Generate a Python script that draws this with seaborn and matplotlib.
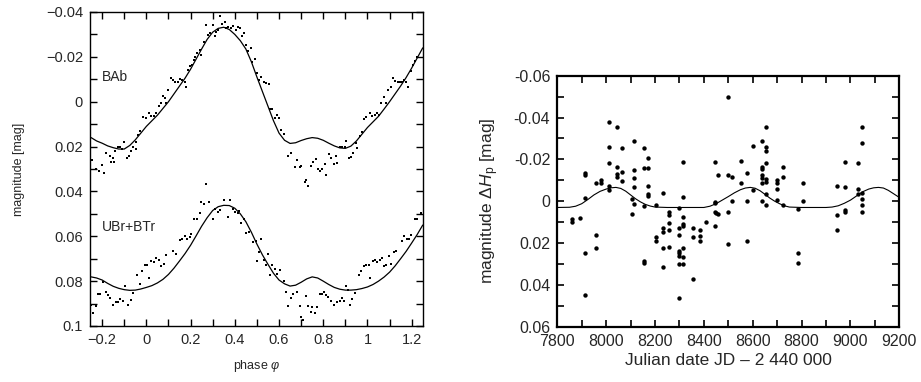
import pandas as pd
import seaborn as sns
import matplotlib.pyplot as plt
from matplotlib.ticker import MultipleLocator, FuncFormatter

# ---- left panel: phased light curves ----
bab_phase = [-0.246, -0.226, -0.214, -0.200, -0.190, -0.181, -0.166, -0.161, -0.152, -0.148,
             -0.140, -0.128, -0.118, -0.109, -0.099, -0.088, -0.079, -0.068, -0.060, -0.048,
             -0.048, -0.038, -0.030, -0.015, -0.003, 0.011, 0.023, 0.033, 0.045, 0.057,
             0.068, 0.075, 0.083, 0.090, 0.098, 0.113, 0.121, 0.128, 0.143, 0.151,
             0.163, 0.174, 0.181, 0.189, 0.199, 0.208, 0.214, 0.219, 0.229, 0.241,
             0.249, 0.259, 0.271, 0.279, 0.287, 0.302, 0.309, 0.317, 0.324, 0.332,
             0.344, 0.354, 0.362, 0.370, 0.385, 0.392, 0.404, 0.415, 0.422, 0.434,
             0.441, 0.452, 0.460, 0.471, 0.478, 0.490, 0.501, 0.510, 0.520, 0.532,
             0.543, 0.553, 0.558, 0.570, 0.584, 0.593, 0.600, 0.611, 0.623, 0.641,
             0.656, 0.671, 0.683, 0.694, 0.701, 0.716, 0.724, 0.731, 0.744, 0.754,
             0.765, 0.775, 0.784, 0.796, 0.807, 0.814, 0.825, 0.837, 0.848, 0.857,
             0.863, 0.875, 0.887, 0.898, 0.902, 0.916, 0.924, 0.935, 0.946, 0.953,
             0.965, 0.976, 0.985, 0.995, 1.011, 1.021, 1.033, 1.044, 1.053, 1.063,
             1.075, 1.083, 1.094, 1.106, 1.116, 1.124, 1.136, 1.146, 1.158, 1.166,
             1.173, 1.184, 1.195, 1.207, 1.214, 1.222]
bab_mag = [0.026, 0.030, 0.031, 0.028, 0.032, 0.023, 0.024, 0.027, 0.025, 0.027,
           0.022, 0.020, 0.020, 0.021, 0.018, 0.025, 0.024, 0.022, 0.020, 0.021,
           0.018, 0.015, 0.013, 0.0070, 0.0074, 0.0052, 0.0064, 0.0064, 0.0052, 0.0019,
           0.0007, -0.0026, -0.0016, 0.0004, -0.0050, -0.0105, -0.0098, -0.0090, -0.0090, -0.0100,
           -0.0098, -0.0086, -0.0065, -0.0142, -0.0157, -0.0164, -0.0186, -0.0201, -0.0219, -0.0231,
           -0.0209, -0.0264, -0.0343, -0.0299, -0.0306, -0.0343, -0.0291, -0.0313, -0.0321, -0.0383,
           -0.0347, -0.0354, -0.0328, -0.0335, -0.0328, -0.0339, -0.0321, -0.0333, -0.0328, -0.0291,
           -0.0306, -0.0254, -0.0224, -0.0239, -0.0175, -0.0190, -0.0130, -0.0095, -0.0112, -0.0086,
           -0.0083, -0.0078, 0.0034, 0.0034, 0.0074, 0.0059, 0.0074, 0.0126, 0.0145, 0.0242,
           0.0227, 0.0293, 0.0260, 0.0290, 0.0287, 0.0357, 0.0349, 0.0374, 0.0285, 0.0267,
           0.0257, 0.0302, 0.0308, 0.0302, 0.0278, 0.0327, 0.0233, 0.0252, 0.0278, 0.0242,
           0.0272, 0.0200, 0.0203, 0.0203, 0.0173, 0.0252, 0.0248, 0.0227, 0.0182, 0.0208,
           0.0153, 0.0133, 0.0078, 0.0066, 0.0051, 0.0063, 0.0059, 0.0051, 0.0059, 0.0007,
           -0.0023, 0.0004, -0.0050, -0.0065, -0.0105, -0.0094, -0.0090, -0.0090, -0.0086, -0.0097,
           -0.0090, -0.0065, -0.0139, -0.0164, -0.0180, -0.0199]

ubr_phase = [-0.249, -0.241, -0.229, -0.219, -0.208, -0.196, -0.184, -0.173, -0.166, -0.151,
             -0.139, -0.128, -0.118, -0.106, -0.098, -0.083, -0.071, -0.060, -0.042, -0.030,
             -0.018, -0.008, 0.003, 0.012, 0.023, 0.033, 0.045, 0.057, 0.068, 0.080,
             0.090, 0.121, 0.133, 0.154, 0.163, 0.173, 0.186, 0.196, 0.204, 0.216,
             0.229, 0.241, 0.249, 0.259, 0.271, 0.284, 0.302, 0.309, 0.324, 0.332,
             0.350, 0.370, 0.380, 0.392, 0.400, 0.415, 0.420, 0.430, 0.440, 0.452,
             0.465, 0.483, 0.494, 0.501, 0.510, 0.520, 0.531, 0.540, 0.550, 0.561,
             0.570, 0.580, 0.591, 0.603, 0.621, 0.630, 0.641, 0.654, 0.664, 0.683,
             0.694, 0.701, 0.709, 0.721, 0.732, 0.745, 0.751, 0.763, 0.772, 0.784,
             0.793, 0.802, 0.814, 0.822, 0.834, 0.848, 0.864, 0.875, 0.885, 0.894,
             0.902, 0.913, 0.923, 0.932, 0.943, 0.962, 0.973, 0.984, 0.995, 1.006,
             1.013, 1.026, 1.036, 1.045, 1.056, 1.066, 1.075, 1.086, 1.097, 1.107,
             1.118, 1.131, 1.154, 1.165, 1.177, 1.187, 1.196, 1.214, 1.225, 1.240]
ubr_mag = [0.0907, 0.0941, 0.0912, 0.0858, 0.0858, 0.0803, 0.0848, 0.0863, 0.0873, 0.0907,
           0.0892, 0.0892, 0.0878, 0.0888, 0.0823, 0.0907, 0.0882, 0.0855, 0.0773, 0.0814,
           0.0754, 0.0729, 0.0729, 0.0784, 0.0709, 0.0714, 0.0699, 0.0704, 0.0734, 0.0725,
           0.0685, 0.0665, 0.0680, 0.0617, 0.0614, 0.0599, 0.0614, 0.0605, 0.0590, 0.0525,
           0.0525, 0.0498, 0.0446, 0.0457, 0.0367, 0.0446, 0.0525, 0.0480, 0.0491, 0.0483,
           0.0436, 0.0513, 0.0436, 0.0480, 0.0491, 0.0495, 0.0486, 0.0543, 0.0525, 0.0587,
           0.0580, 0.0625, 0.0620, 0.0709, 0.0669, 0.0614, 0.0704, 0.0729, 0.0677, 0.0773,
           0.0729, 0.0744, 0.0766, 0.0751, 0.0799, 0.0848, 0.0912, 0.0873, 0.0858, 0.0848,
           0.0912, 0.0960, 0.0972, 0.0867, 0.0912, 0.0937, 0.0915, 0.0941, 0.0915, 0.0858,
           0.0858, 0.0848, 0.0863, 0.0870, 0.0888, 0.0907, 0.0892, 0.0888, 0.0873, 0.0888,
           0.0823, 0.0841, 0.0907, 0.0878, 0.0855, 0.0773, 0.0754, 0.0734, 0.0729, 0.0729,
           0.0784, 0.0709, 0.0706, 0.0714, 0.0704, 0.0699, 0.0734, 0.0729, 0.0689, 0.0725,
           0.0669, 0.0665, 0.0620, 0.0599, 0.0614, 0.0614, 0.0595, 0.0525, 0.0525, 0.0498]

# fitted curves, every 0.025 in phase
fit_phase = [-0.250, -0.225, -0.200, -0.175, -0.150, -0.125, -0.100, -0.075, -0.050, -0.025,
             0.000, 0.025, 0.050, 0.075, 0.100, 0.125, 0.150, 0.175, 0.200, 0.225,
             0.250, 0.275, 0.300, 0.325, 0.350, 0.375, 0.400, 0.425, 0.450, 0.475,
             0.500, 0.525, 0.550, 0.575, 0.600, 0.625, 0.650, 0.675, 0.700, 0.725,
             0.750, 0.775, 0.800, 0.825, 0.850, 0.875, 0.900, 0.925, 0.950, 0.975,
             1.000, 1.025, 1.050, 1.075, 1.100, 1.125, 1.150, 1.175, 1.200, 1.225, 1.250]
bab_fit = [0.0160, 0.0175, 0.0185, 0.0197, 0.0205, 0.0211, 0.0211, 0.0195, 0.0170, 0.0140,
           0.0110, 0.0085, 0.0060, 0.0030, 0.0000, -0.0035, -0.0070, -0.0105, -0.0145, -0.0190,
           -0.0235, -0.0278, -0.0310, -0.0327, -0.0332, -0.0322, -0.0300, -0.0272, -0.0235, -0.0178,
           -0.0110, -0.0045, 0.0020, 0.0085, 0.0140, 0.0172, 0.0186, 0.0183, 0.0173, 0.0165,
           0.0160, 0.0163, 0.0172, 0.0185, 0.0197, 0.0206, 0.0208, 0.0198, 0.0175, 0.0145,
           0.0115, 0.0090, 0.0065, 0.0033, 0.0000, -0.0035, -0.0070, -0.0108, -0.0150, -0.0195, -0.0240]
ubr_fit = [0.0781, 0.0786, 0.0795, 0.0810, 0.0823, 0.0832, 0.0838, 0.0841, 0.0840, 0.0835,
           0.0828, 0.0820, 0.0808, 0.0792, 0.0770, 0.0742, 0.0710, 0.0677, 0.0640, 0.0598,
           0.0555, 0.0517, 0.0485, 0.0468, 0.0462, 0.0463, 0.0475, 0.0500, 0.0535, 0.0582,
           0.0635, 0.0683, 0.0725, 0.0765, 0.0795, 0.0812, 0.0822, 0.0818, 0.0805, 0.0790,
           0.0781, 0.0786, 0.0800, 0.0815, 0.0828, 0.0836, 0.0840, 0.0840, 0.0838, 0.0833,
           0.0826, 0.0815, 0.0800, 0.0782, 0.0760, 0.0732, 0.0700, 0.0667, 0.0630, 0.0592, 0.0550]

# ---- right panel: Hipparcos residuals vs time ----
jd_days = [7859, 7859, 7893, 7913, 7913, 7913, 7913, 7913, 7958, 7958, 7958, 7977, 7977,
           8012, 8012, 8012, 8012, 8012, 8044, 8044, 8044, 8044, 8063, 8063, 8063,
           8104, 8104, 8114, 8114, 8114, 8114, 8114, 8155, 8155, 8155, 8155, 8155,
           8173, 8173, 8173, 8173, 8173, 8204, 8204, 8204, 8234, 8234, 8234, 8234, 8234,
           8258, 8258, 8258, 8258, 8258, 8299, 8299, 8299, 8299, 8299, 8299, 8299, 8299,
           8316, 8316, 8316, 8316, 8316, 8316, 8316, 8316, 8354, 8354, 8354,
           8384, 8384, 8384, 8408, 8446, 8446, 8446, 8446, 8446, 8450, 8459, 8459,
           8500, 8500, 8500, 8500, 8514, 8514, 8551, 8551, 8575, 8575, 8575, 8600, 8600,
           8637, 8637, 8637, 8637, 8637, 8637, 8637, 8655, 8655, 8655, 8655, 8655, 8655, 8655, 8655,
           8699, 8699, 8699, 8699, 8724, 8724, 8724, 8787, 8787, 8787, 8804, 8804,
           8944, 8944, 8944, 8978, 8978, 8978, 8978, 9030, 9030, 9030,
           9047, 9047, 9047, 9047, 9047, 9047]
delta_hp = [0.0087, 0.0101, 0.0082, -0.0133, -0.0125, -0.0014, 0.0249, 0.0448, -0.0089, 0.0162, 0.0225, -0.0101, -0.0089,
            -0.0380, -0.0260, -0.0181, -0.0073, -0.0054, -0.0356, -0.0165, -0.0128, -0.0117, -0.0253, -0.0141, -0.0097,
            -0.0009, 0.0061, -0.0288, -0.0149, -0.0109, -0.0070, 0.0014, -0.0253, -0.0160, 0.0021, 0.0284, 0.0294,
            -0.0205, -0.0160, -0.0073, -0.0033, -0.0025, 0.0018, 0.0170, 0.0189, -0.0038, 0.0130, 0.0146, 0.0225, 0.0316,
            0.0050, 0.0066, 0.0103, 0.0138, 0.0217, 0.0034, 0.0130, 0.0162, 0.0237, 0.0246, 0.0262, 0.0300, 0.0464,
            -0.0189, -0.0018, 0.0074, 0.0109, 0.0119, 0.0225, 0.0268, 0.0300, 0.0127, 0.0170, 0.0372,
            0.0138, 0.0166, 0.0189, 0.0101, -0.0189, 0.0002, 0.0010, 0.0050, 0.0117, 0.0058, -0.0125, 0.0061,
            -0.0496, -0.0125, 0.0050, 0.0206, -0.0117, -0.0003, -0.0194, -0.0085, -0.0136, -0.0003, 0.0190, -0.0264, -0.0054,
            -0.0289, -0.0165, -0.0152, -0.0125, -0.0112, -0.0089, -0.0003, -0.0353, -0.0261, -0.0240, -0.0181, -0.0104, -0.0093, -0.0034, 0.0018,
            -0.0101, -0.0089, -0.0057, -0.0006, -0.0165, -0.0117, 0.0018, 0.0039, 0.0249, 0.0297, -0.0089, -0.0003,
            -0.0074, 0.0066, 0.0138, -0.0189, -0.0066, 0.0042, 0.0050, -0.0181, -0.0057, -0.0034,
            -0.0356, -0.0277, -0.0041, -0.0009, 0.0018, 0.0050]

fit_jd = [7800, 7850, 7875, 7900, 7925, 7950, 7975, 8000, 8020, 8040, 8060, 8080, 8100, 8120,
          8140, 8160, 8180, 8200, 8250, 8300, 8350, 8400, 8425, 8450, 8475, 8500, 8525, 8550,
          8570, 8590, 8610, 8630, 8650, 8670, 8690, 8710, 8730, 8750, 8800, 8850, 8900, 8925,
          8950, 8975, 9000, 9025, 9050, 9075, 9095, 9115, 9135, 9155, 9175, 9200]
fit_dhp = [0.0030, 0.0029, 0.0024, 0.0012, -0.0008, -0.0030, -0.0047, -0.0058, -0.0064, -0.0066,
           -0.0061, -0.0048, -0.0030, -0.0012, 0.0003, 0.0015, 0.0023, 0.0028, 0.0030, 0.0030,
           0.0030, 0.0030, 0.0024, 0.0012, -0.0005, -0.0022, -0.0040, -0.0055, -0.0063, -0.0066,
           -0.0062, -0.0050, -0.0033, -0.0015, 0.0000, 0.0012, 0.0022, 0.0028, 0.0030, 0.0030,
           0.0030, 0.0028, 0.0022, 0.0010, -0.0005, -0.0025, -0.0045, -0.0058, -0.0064, -0.0066,
           -0.0063, -0.0052, -0.0037, -0.0018]

bab = pd.DataFrame({'phase': bab_phase, 'mag': bab_mag})
ubr = pd.DataFrame({'phase': ubr_phase, 'mag': ubr_mag})
fits = pd.DataFrame({'phase': fit_phase, 'bab': bab_fit, 'ubr': ubr_fit})
hip = pd.DataFrame({'jd': jd_days, 'dhp': delta_hp})
hip_fit = pd.DataFrame({'jd': fit_jd, 'dhp': fit_dhp})

sns.set_theme(style="ticks")
plt.rcParams['font.family'] = ['Liberation Sans', 'DejaVu Sans']
plt.rcParams['mathtext.fontset'] = 'custom'
plt.rcParams['mathtext.rm'] = 'Liberation Sans'
plt.rcParams['mathtext.it'] = 'Liberation Sans:italic'

fig = plt.figure(figsize=(9.21, 3.82), dpi=100)
ax1 = fig.add_axes([0.0977, 0.1466, 0.3613, 0.8220])
ax2 = fig.add_axes([0.6051, 0.1448, 0.3713, 0.6570])

# left panel
for df in (bab, ubr):
    sns.scatterplot(data=df, x='phase', y='mag', ax=ax1, color='black', s=2.5,
                    marker='s', linewidth=0)
for col in ('bab', 'ubr'):
    sns.lineplot(data=fits, x='phase', y=col, ax=ax1, color='black', linewidth=0.9,
                 estimator=None)

ax1.set_xlim(-0.255, 1.25)
ax1.set_ylim(0.1, -0.04)
ax1.xaxis.set_major_locator(MultipleLocator(0.2))
ax1.xaxis.set_minor_locator(MultipleLocator(0.1))
ax1.yaxis.set_major_locator(MultipleLocator(0.02))
ax1.yaxis.set_minor_locator(MultipleLocator(0.01))
fmt_left = FuncFormatter(lambda v, p: ('%g' % round(v, 4)).replace('-', '\u2212'))
ax1.xaxis.set_major_formatter(fmt_left)
ax1.yaxis.set_major_formatter(fmt_left)
ax1.tick_params(which='both', direction='in', top=True, right=True, bottom=True, left=True,
                length=5, width=1.0, color='black', labelsize=10.5, pad=5)
ax1.set_xlabel(r'phase $\varphi$', fontsize=9, labelpad=8)
ax1.set_ylabel('magnitude [mag]', fontsize=9, labelpad=15)
ax1.text(-0.2, -0.011, 'BAb', fontsize=10, ha='left', va='center')
ax1.text(-0.2, 0.056, 'UBr+BTr', fontsize=10, ha='left', va='center')
for sp in ax1.spines.values():
    sp.set_linewidth(1.0)
    sp.set_color('black')

# right panel
sns.scatterplot(data=hip, x='jd', y='dhp', ax=ax2, color='black', s=10, linewidth=0)
sns.lineplot(data=hip_fit, x='jd', y='dhp', ax=ax2, color='black', linewidth=0.8,
             estimator=None)
ax2.set_xlim(7800, 9200)
ax2.set_ylim(0.06, -0.06)
ax2.xaxis.set_major_locator(MultipleLocator(200))
ax2.xaxis.set_minor_locator(MultipleLocator(100))
ax2.yaxis.set_major_locator(MultipleLocator(0.02))
ax2.yaxis.set_minor_locator(MultipleLocator(0.01))
ax2.xaxis.set_major_formatter(FuncFormatter(lambda v, p: '%d' % v))
ax2.yaxis.set_major_formatter(FuncFormatter(lambda v, p: '%g' % round(v, 4)))
ax2.tick_params(which='both', direction='in', top=True, right=True, bottom=True, left=True,
                length=5, width=1.2, color='black', labelsize=11.5, pad=5)
ax2.set_xlabel('Julian date JD \u2013 2 440 000', fontsize=12.5, labelpad=3)
ax2.set_ylabel(r'magnitude $\Delta H_{\mathrm{p}}$ [mag]', fontsize=12.5, labelpad=9)
for sp in ax2.spines.values():
    sp.set_linewidth(1.6)
    sp.set_color('black')

fig.savefig('out.png', dpi=100)
